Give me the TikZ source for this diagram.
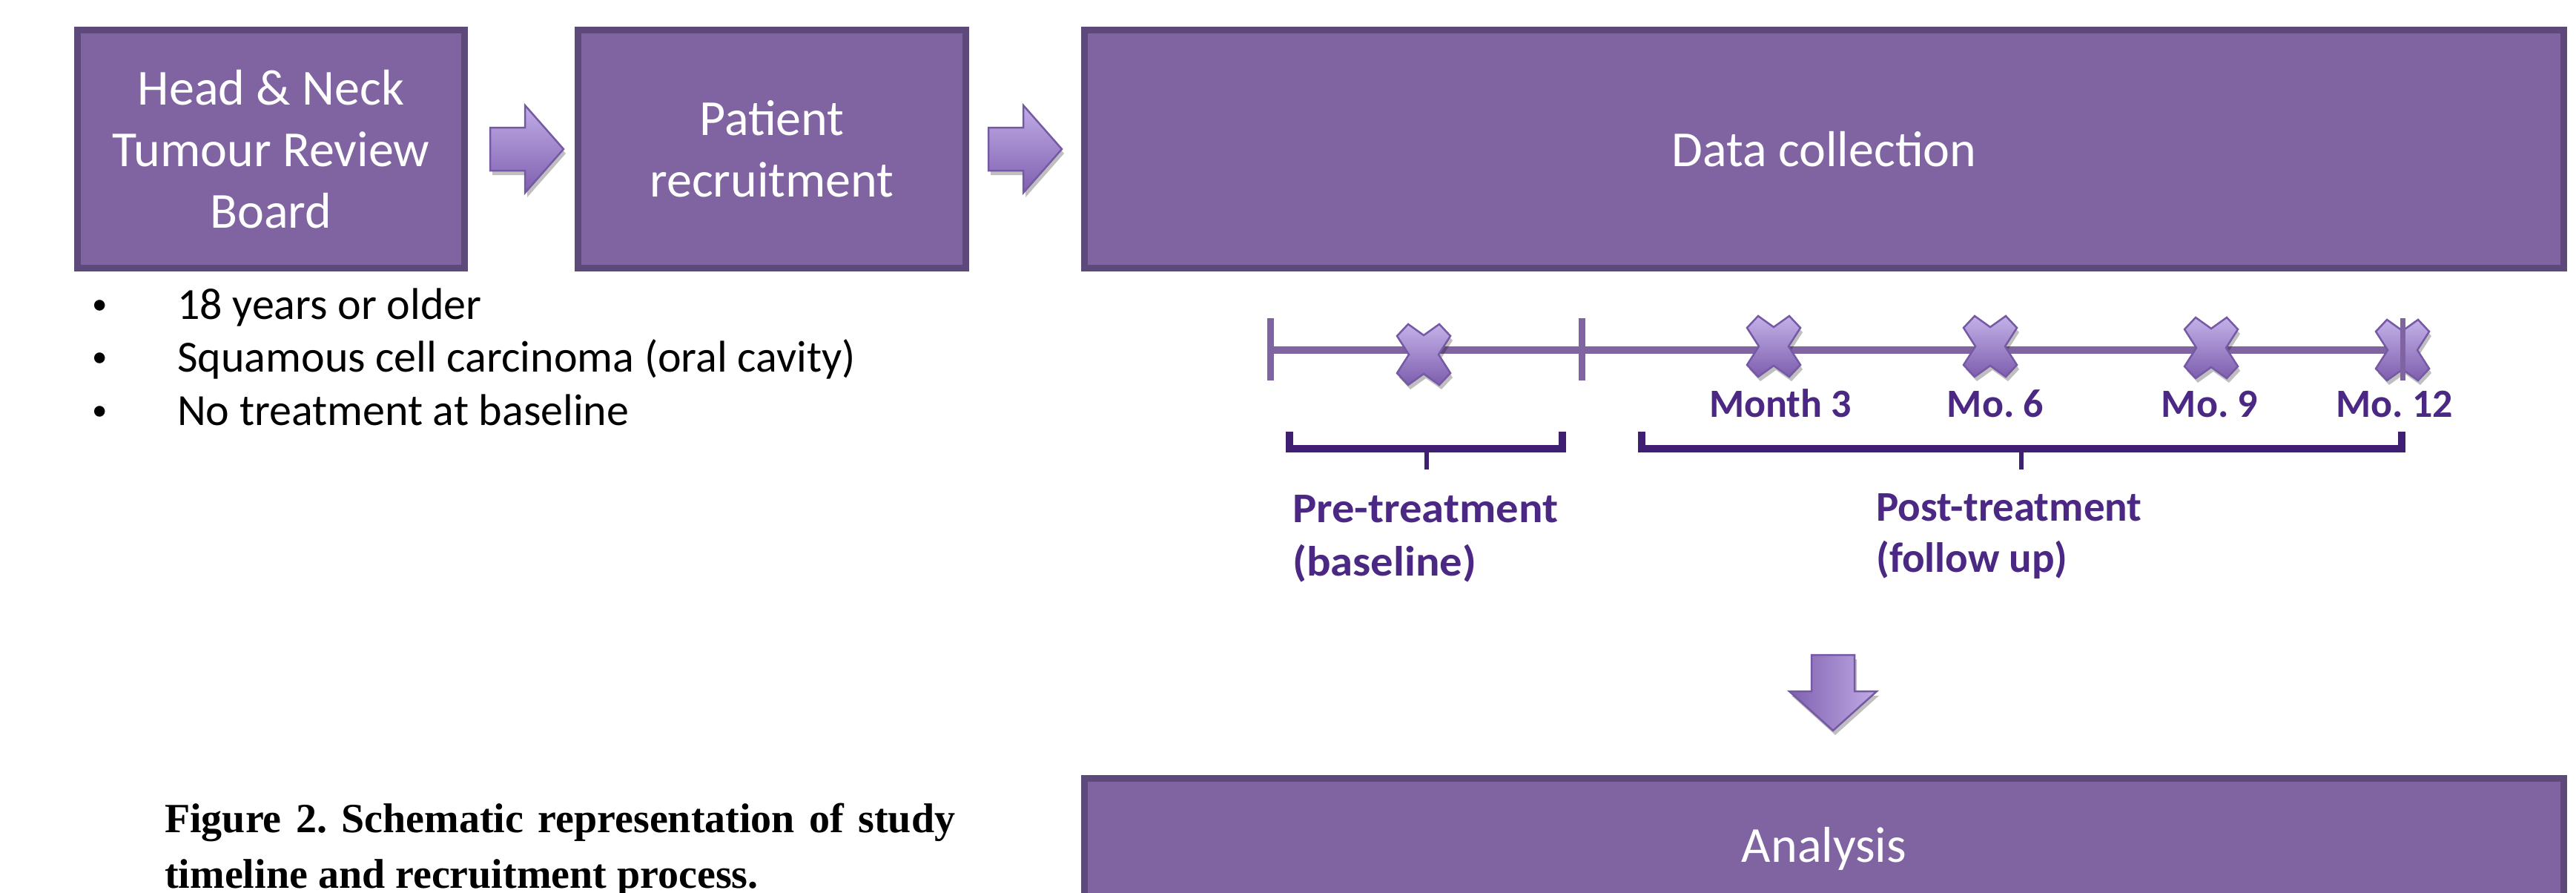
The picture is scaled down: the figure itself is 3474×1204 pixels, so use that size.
\documentclass[tikz,border=0pt]{standalone}
\usepackage{fontspec}
\usepackage{graphicx}
\setmainfont{Carlito}
\newfontfamily\capfont{Liberation Serif}
\usetikzlibrary{calc,shadows}
\definecolor{boxfill}{HTML}{8064A2}
\definecolor{boxedge}{HTML}{5D4A7B}
\definecolor{lblpurple}{HTML}{4B2883}
\definecolor{brk}{HTML}{3F1F72}
\definecolor{tlcol}{HTML}{8064A2}
\definecolor{xtop}{HTML}{C3B1E8}
\definecolor{xbot}{HTML}{7E5EAE}
\definecolor{xedge}{HTML}{7659A4}
\definecolor{arrlight}{HTML}{C0ACE6}
\definecolor{arrdark}{HTML}{7F60AF}
\newcommand{\critbullet}{\makebox[117pt][l]{\makebox[25pt][c]{\fontsize{41}{41}\selectfont\raisebox{7pt}{•}}}}
\tikzset{
  stage/.style={draw=boxedge, line width=9pt, fill=boxfill, text=white,
    font=\fontsize{68}{83}\selectfont, align=center, inner sep=0pt},
  crit/.style={anchor=base west, inner sep=0pt, font=\fontsize{60}{72}\selectfont},
  capline/.style={anchor=base west, inner sep=0pt, font=\capfont\bfseries\fontsize{56}{73}\selectfont},
  month/.style={anchor=base, inner sep=0pt, text=lblpurple, font=\bfseries\fontsize{54}{66}\selectfont},
  phase/.style={anchor=base west, inner sep=0pt, text=lblpurple, font=\bfseries\fontsize{57}{72}\selectfont},
  tline/.style={draw=tlcol, line width=10pt},
  ttick/.style={draw=tlcol, line width=9pt},
  bracket/.style={draw=brk, line width=10pt, line join=miter},
  btick/.style={draw=brk, line width=6pt},
  shadowed/.style={drop shadow={shadow xshift=3pt, shadow yshift=-6pt, opacity=.25, fill=black}},
  rarrow/.style={top color=arrlight, bottom color=arrdark, draw=xedge, line width=2.5pt, line join=miter, shadowed},
  darrow/.style={left color=arrdark, right color=arrlight, draw=xedge, line width=2.5pt, line join=miter, shadowed},
  xfill/.style={top color=xtop, bottom color=xbot, draw=xedge, line width=2.5pt, line join=miter, shadowed},
  xmark/.pic={\path[xfill] (-21,-41) -- (0,-26) -- (21,-41) -- (36,-25) -- (20,0) -- (36,25)
     -- (21,41) -- (0,26) -- (-21,41) -- (-36,25) -- (-20,0) -- (-36,-25) -- cycle;}
}
\begin{document}
\frenchspacing
\begin{tikzpicture}[x=1pt, y=-1pt]
\useasboundingbox (0,0) rectangle (3474,1204);

% top row boxes
\node[stage, minimum width=522pt, minimum height=321pt] (b1) at (365.5,201) {Head \& Neck\\Tumour Review\\Board};
\node[stage, minimum width=523pt, minimum height=321pt] (b2) at (1041,201) {Patient\\recruitment};
\node[stage, minimum width=1995pt, minimum height=321pt] (dc) at (2460,201) {Data collection};

% block arrows between boxes
\path (b1.east) ++(30,0) coordinate (a1s);
\path (b2.east) ++(26,0) coordinate (a2s);
\path[rarrow] ([shift={(0,-29)}]a1s) -- ++(47,0) -- ++(0,-30) -- ++(52,59) -- ++(-52,59) -- ++(0,-30) -- ++(-47,0) -- cycle;
\path[rarrow] ([shift={(0,-29)}]a2s) -- ++(47,0) -- ++(0,-30) -- ++(52,59) -- ++(-52,59) -- ++(0,-30) -- ++(-47,0) -- cycle;

% criteria
\node[crit] (c1) at (122,430) {\critbullet 18 years or older};
\node[crit] (c2) at (122,501.5) {\critbullet Squamous cell carcinoma (oral cavity)};
\node[crit] (c3) at (122,573) {\critbullet No treatment at baseline};

% timeline
\coordinate (t0) at (1713,472);
\coordinate (t1) at (2133,472);
\coordinate (t2) at (3240,472);
\draw[tline] (t0) -- (t2);
\draw[ttick] ([yshift=43pt]t0) -- ([yshift=-41pt]t0);
\draw[ttick] ([yshift=43pt]t1) -- ([yshift=-41pt]t1);
\pic (x0) at (1920,478) {xmark};
\pic (x1) at (2392,467) {xmark};
\pic (x2) at (2684,467) {xmark};
\pic (x3) at (2982,469) {xmark};
\pic (x4) at (3240,472) {xmark};
\draw[ttick, line width=7pt] ([yshift=43pt]t2) -- ([yshift=-41pt]t2);

% month labels
\node[month] (m3) at (2401,562) {Month 3};
\node[month] (m6) at (2691,562) {Mo. 6};
\node[month] (m9) at (2980,562) {Mo. 9};
\node[month] (m12) at (3229,562) {Mo. 12};

% brackets
\draw[bracket] (1739,582) -- (1739,605) -- (2107,605) -- (2107,582);
\draw[btick] (1924,605) -- (1924,633);
\draw[bracket] (2214,582) -- (2214,605) -- (3239,605) -- (3239,582);
\draw[btick] (2726,605) -- (2726,633);

\node[phase] (pre1) at (1743,704) {\scalebox{1.065}[1]{Pre-treatment}};
\node[phase] (pre2) at (1743,776) {\scalebox{1.065}[1]{(baseline)}};
\node[phase] (post1) at (2530,702) {Post-treatment};
\node[phase] (post2) at (2530,771) {(follow up)};

% down arrow
\coordinate (da) at (2472,883);
\path[darrow] ([shift={(-29,0)}]da) -- ++(58,0) -- ++(0,49) -- ++(30,0) -- ++(-59,53) -- ++(-59,-53) -- ++(30,0) -- cycle;

% analysis box (cut by the lower edge)
\begin{scope}
\clip (0,0) rectangle (3474,1204);
\node[stage, minimum width=1995pt, minimum height=189pt] (an) at (2460,1144) {Analysis};
\end{scope}

% caption
\node[capline] (cap1) at (222,1122) {\makebox[1066pt][s]{Figure 2. Schematic representation of study}};
\node[capline] (cap2) at (222,1197) {timeline and recruitment process.};
\end{tikzpicture}
\end{document}
